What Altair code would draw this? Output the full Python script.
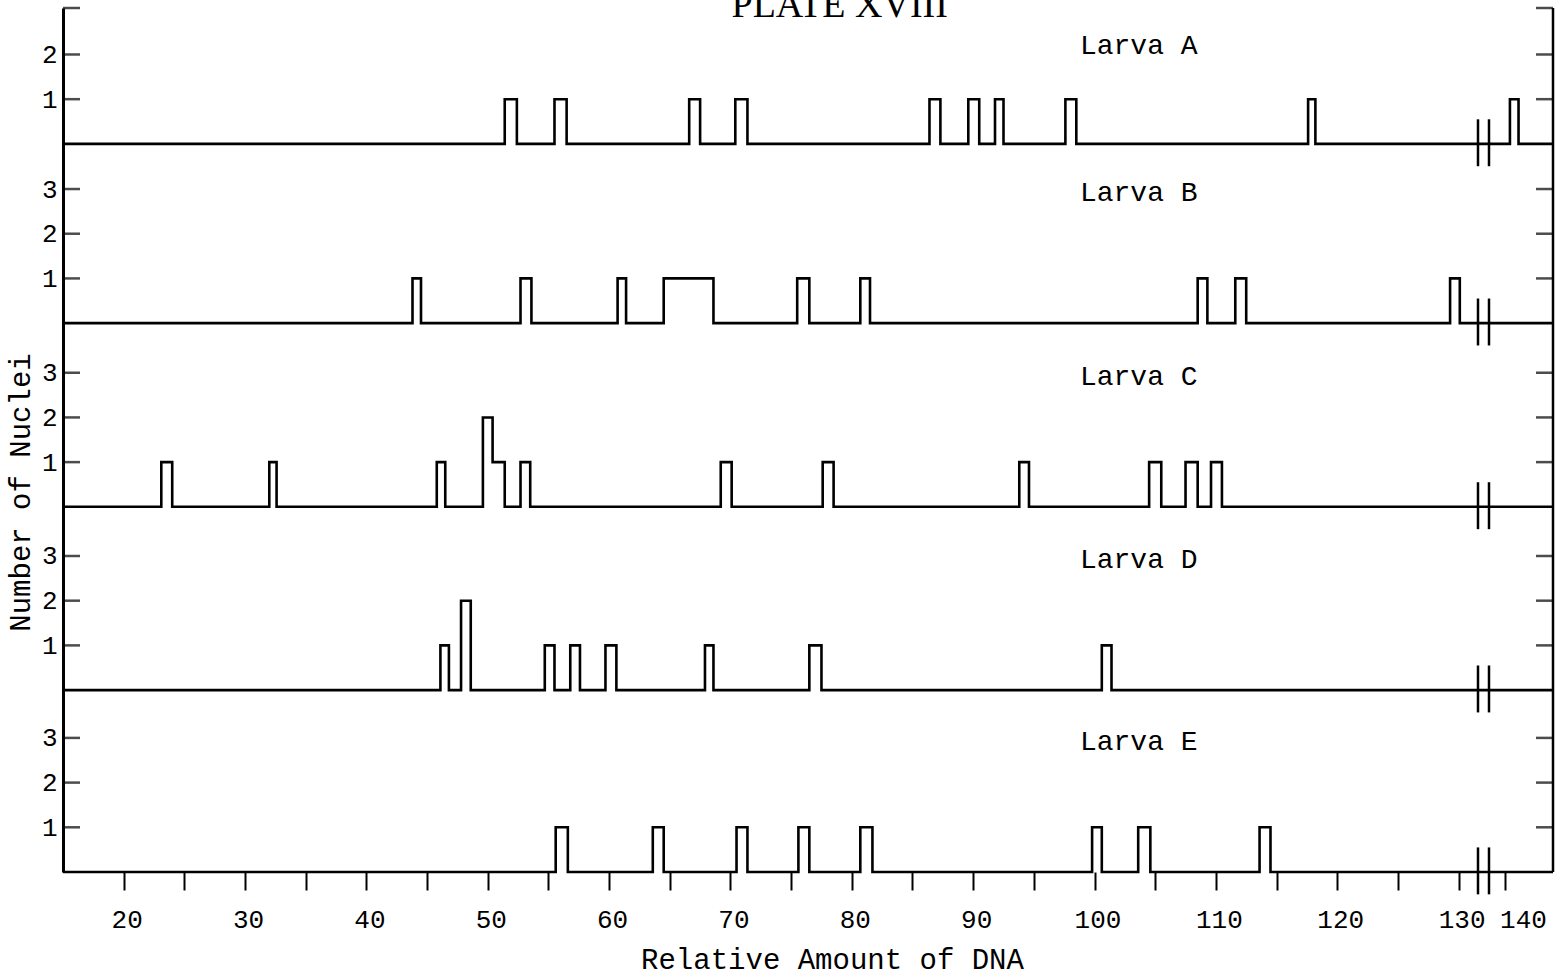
import altair as alt
import pandas as pd

# ---------------- data read from the plate ----------------
larvae = ["Larva A", "Larva B", "Larva C", "Larva D", "Larva E"]

a_start = [51.4, 55.5, 66.6, 70.4, 86.4, 89.6, 91.8, 97.6, 117.6, 140.4]
a_end = [52.4, 56.5, 67.5, 71.4, 87.3, 90.5, 92.5, 98.5, 118.2, 141.1]
a_count = [1, 1, 1, 1, 1, 1, 1, 1, 1, 1]

b_start = [43.8, 52.7, 60.7, 64.5, 75.5, 80.7, 108.5, 111.6, 129.3]
b_end = [44.5, 53.6, 61.4, 68.6, 76.5, 81.5, 109.3, 112.5, 130.1]
b_count = [1, 1, 1, 1, 1, 1, 1, 1, 1]

c_start = [23.1, 32.0, 45.8, 49.6, 50.4, 52.7, 69.2, 77.6, 93.8, 104.5, 107.5, 109.6]
c_end = [24.0, 32.6, 46.5, 50.4, 51.4, 53.5, 70.1, 78.5, 94.6, 105.5, 108.5, 110.5]
c_count = [1, 1, 1, 2, 1, 1, 1, 1, 1, 1, 1, 1]

d_start = [46.1, 47.8, 54.7, 56.8, 59.7, 67.9, 76.5, 100.6]
d_end = [46.8, 48.6, 55.5, 57.6, 60.6, 68.6, 77.5, 101.4]
d_count = [1, 2, 1, 1, 1, 1, 1, 1]

e_start = [55.6, 63.6, 70.5, 75.6, 80.7, 99.8, 103.6, 113.6]
e_end = [56.6, 64.5, 71.4, 76.5, 81.7, 100.6, 104.6, 114.5]
e_count = [1, 1, 1, 1, 1, 1, 1, 1]

y_ticks_a = [1, 2]
y_ticks_other = [1, 2, 3]
x_ticks = [20, 25, 30, 35, 40, 45, 50, 55, 60, 65, 70, 75, 80, 85, 90, 95,
           100, 105, 110, 115, 120, 125, 130, 140]

plate_title = "PLATE XVIII"

# ---------------- layout (stacked panels on one y scale) ----------------
W, H = 1490, 864
X_MIN, BREAK_LO, BREAK_HI, X_MAX = 15, 131.6, 138.7, 143.9
X_RANGE = [0, 1415, 1426, W]
BASE = {"Larva A": 16.29, "Larva B": 12.28, "Larva C": 8.17, "Larva D": 4.07, "Larva E": 0.0}
Y_TOP = 19.33

bars = {
    "Larva A": (a_start, a_end, a_count),
    "Larva B": (b_start, b_end, b_count),
    "Larva C": (c_start, c_end, c_count),
    "Larva D": (d_start, d_end, d_count),
    "Larva E": (e_start, e_end, e_count),
}

rows = []
for lv in larvae:
    s_, e_, c_ = bars[lv]
    base = BASE[lv]
    pts = [(X_MIN, 0)]
    n = len(s_)
    for k in range(n):
        s, e, c = s_[k], e_[k], c_[k]
        if not (k > 0 and abs(e_[k - 1] - s) < 1e-9):
            pts.append((s, 0))
        pts.append((s, c))
        pts.append((e, c))
        if not (k < n - 1 and abs(s_[k + 1] - e) < 1e-9):
            pts.append((e, 0))
    pts.append((X_MAX, 0))
    for i, (x, y) in enumerate(pts):
        rows.append({"larva": lv, "i": i, "x": x, "y": base + y})
hist = pd.DataFrame(rows)

# y tick values on the combined scale
label_vals, label_txt = [], []
for lv in larvae:
    tk = y_ticks_a if lv == "Larva A" else y_ticks_other
    for t in tk:
        label_vals.append(round(BASE[lv] + t, 2))
        label_txt.append(str(t))
label_expr = "{}[indexof({}, round(datum.value*100)/100)]".format(
    "[" + ",".join("'%s'" % t for t in label_txt) + "]",
    "[" + ",".join(repr(v) for v in label_vals) + "]",
)
tick_df_l = pd.DataFrame({"x": [X_MIN] * (len(label_vals) + 1), "y": label_vals + [Y_TOP]})
tick_df_r = pd.DataFrame({"x": [X_MAX] * (len(label_vals) + 1), "y": label_vals + [Y_TOP]})

brk = pd.DataFrame(
    [{"x": bx, "y": BASE[lv] - 0.5, "y2": BASE[lv] + 0.55} for lv in larvae for bx in (BREAK_LO, BREAK_HI)]
)
edge = pd.DataFrame({"x": [X_MAX], "y": [0.0], "y2": [Y_TOP]})
labels = pd.DataFrame({
    "larva": larvae,
    "x": [98.8] * 5,
    "y": [BASE[lv] + (2.0 if lv == "Larva A" else 2.73) for lv in larvae],
})
title_df = pd.DataFrame({"t": [plate_title], "x": [79.0], "y": [Y_TOP - 0.2]})

xs = alt.Scale(domain=[X_MIN, BREAK_LO, BREAK_HI, X_MAX], range=X_RANGE, nice=False, zero=False)
ys = alt.Scale(domain=[0, Y_TOP], nice=False, zero=False)

FONT = "Liberation Mono"

x_axis = alt.Axis(
    values=x_ticks,
    labelExpr="datum.value % 10 === 0 ? datum.label : ''",
    tickSize=18, tickWidth=2, tickColor="black", domain=False, grid=False,
    labelFont=FONT, labelFontSize=26, labelColor="black", labelPadding=16,
    labelOffset={"condition": {"test": "datum.value === 140", "value": 18}, "value": 3},
    labelFlush=False, labelOverlap=False,
    title="Relative Amount of DNA", titleFont=FONT, titleFontSize=29,
    titleFontWeight="normal", titleColor="black", titleX=769, titleY=96,
    titleBaseline="alphabetic",
)
y_axis = alt.Axis(
    values=label_vals, labelExpr=label_expr, ticks=False,
    domainColor="black", domainWidth=3, grid=False,
    labelFont=FONT, labelFontSize=26, labelColor="black", labelPadding=6,
    labelFlush=False, labelOverlap=False,
    title="Number of Nuclei", titleFont=FONT, titleFontSize=29,
    titleFontWeight="normal", titleColor="black", titleY=484, titlePadding=6,
)

X = alt.X("x:Q", scale=xs, axis=x_axis)
Y = alt.Y("y:Q", scale=ys, axis=y_axis)

line = alt.Chart(hist).mark_line(color="black", strokeWidth=2.6, strokeJoin="miter").encode(
    x=X, y=Y, detail="larva:N", order="i:Q",
)

lt = alt.Chart(tick_df_l).mark_tick(orient="horizontal", size=17, thickness=2.5, xOffset=8.5, color="black").encode(
    x=X, y=Y
)
rt = alt.Chart(tick_df_r).mark_tick(orient="horizontal", size=17, thickness=2.5, xOffset=-8.5, color="black").encode(
    x=X, y=Y
)
right_edge = alt.Chart(edge).mark_rule(color="black", strokeWidth=2.5).encode(
    x=X, y=Y, y2="y2:Q"
)
breaks = alt.Chart(brk).mark_rule(color="black", strokeWidth=2.5).encode(
    x=X, y=Y, y2="y2:Q"
)
text = alt.Chart(labels).mark_text(
    align="left", baseline="alphabetic", font=FONT, fontSize=28, color="black"
).encode(
    x=X, y=Y, text="larva:N"
)
title_mark = alt.Chart(title_df).mark_text(
    align="center", baseline="alphabetic", font="Liberation Serif", fontSize=38, color="black"
).encode(
    x=X, y=Y, text="t:N"
)

chart = alt.layer(line, lt, rt, right_edge, breaks, text, title_mark).properties(
    width=W, height=H,
    autosize=alt.AutoSizeParams(type="none"),
    padding={"left": 63, "top": 8, "right": 3, "bottom": 105},
    background="white",
).configure_view(strokeWidth=0)

chart.save("out.html", embed_options={"renderer": "svg", "actions": False})
